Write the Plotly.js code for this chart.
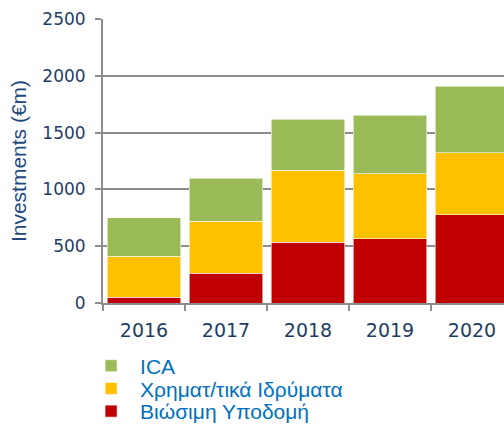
<!DOCTYPE html>
<html>
<head>
<meta charset="utf-8">
<script src="https://cdn.plot.ly/plotly-3.0.1.min.js"></script>
<style>
html, body { margin: 0; padding: 0; overflow: hidden; background: #fff; }
#chart { width: 520px; height: 426px; }
</style>
</head>
<body>
<div id="chart"></div>
<script>
const years = ["2016", "2017", "2018", "2019", "2020"];
const sustainableInfra = [50, 260, 535, 566, 775];
const financialInst = [360, 460, 633, 572, 548];
const ica = [340, 380, 449, 514, 584];
const seriesNames = ["Βιώσιμη Υποδομή", "Χρηματ/τικά Ιδρύματα", "ICA"];
const seriesColors = ["#C00000", "#FFC000", "#9BBB59"];
const yTicks = [0, 500, 1000, 1500, 2000, 2500];

const seriesValues = [sustainableInfra, financialInst, ica];
const legendIds = ["legend3", "legend2", "legend"];
const traces = seriesValues.map((vals, i) => ({
  type: "bar",
  x: years,
  y: vals,
  name: seriesNames[i],
  legend: legendIds[i],
  marker: { color: seriesColors[i], line: { color: "rgba(255,255,255,0.7)", width: 0.8 } },
  hoverinfo: "skip"
}));

function legendAt(yc) {
  return {
    x: -0.051, xanchor: "left", xref: "paper",
    y: yc, yanchor: "middle", yref: "paper",
    font: { family: "Liberation Sans, Arial, sans-serif", size: 21, color: "#0070C0" },
    itemwidth: 48,
    bgcolor: "rgba(0,0,0,0)"
  };
}

const layout = {
  width: 520,
  height: 426,
  margin: { l: 103, r: 7, t: 19, b: 123, autoexpand: false },
  paper_bgcolor: "#ffffff",
  plot_bgcolor: "#ffffff",
  barmode: "stack",
  bargap: 0.1,
  showlegend: true,
  legend: legendAt(-0.222),
  legend2: legendAt(-0.302),
  legend3: legendAt(-0.382),
  xaxis: {
    type: "category",
    tickson: "boundaries",
    ticks: "outside",
    ticklen: 6,
    tickwidth: 2,
    tickcolor: "#8C8C8C",
    showline: true,
    linecolor: "#8C8C8C",
    linewidth: 2,
    showgrid: false,
    tickfont: { family: "DejaVu Sans, Verdana, sans-serif", size: 19, color: "#1F3D64" },
    ticklabelstandoff: 9,
    automargin: false
  },
  yaxis: {
    range: [0, 2500],
    tickvals: yTicks,
    ticktext: yTicks.map(String),
    ticks: "outside",
    ticklen: 6,
    tickwidth: 2,
    tickcolor: "#8C8C8C",
    showline: true,
    linecolor: "#8C8C8C",
    linewidth: 2,
    showgrid: true,
    gridcolor: "#8C8C8C",
    gridwidth: 2,
    zeroline: false,
    tickfont: { family: "DejaVu Sans, Verdana, sans-serif", size: 17, color: "#1F3D64" },
    ticklabelstandoff: 6,
    title: {
      text: "Investments (€m)",
      font: { family: "Liberation Sans, Arial, sans-serif", size: 21, color: "#1F497D" },
      standoff: 10
    },
    automargin: false
  }
};

Plotly.newPlot("chart", traces, layout, { displayModeBar: false, staticPlot: true });
</script>
</body>
</html>
